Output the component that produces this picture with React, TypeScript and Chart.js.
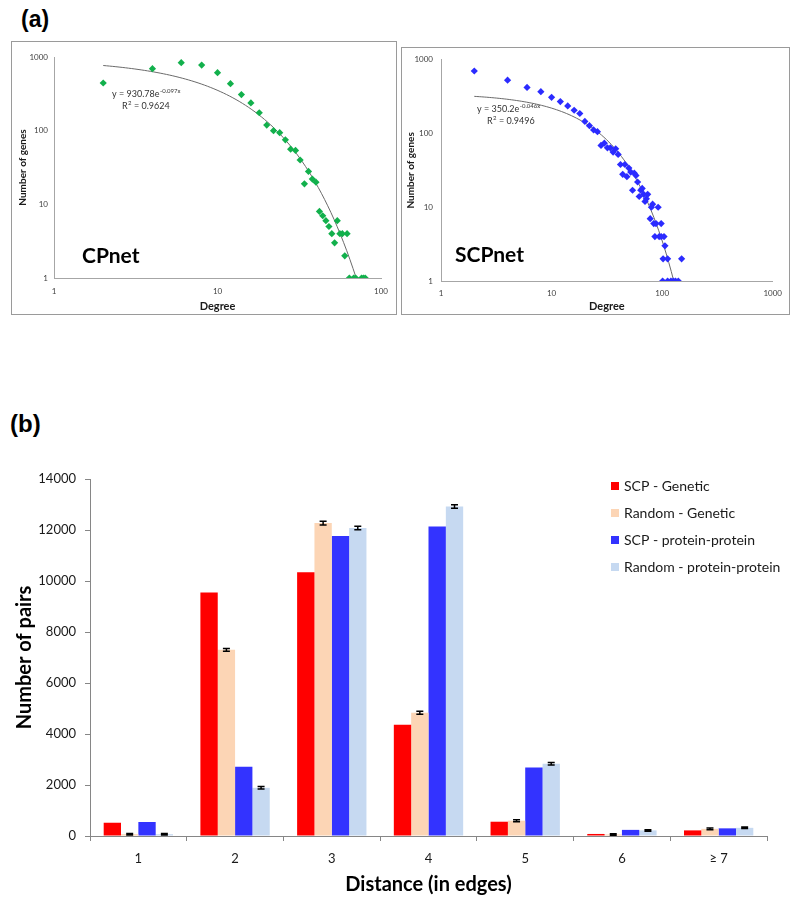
import React, { useEffect, useRef } from "react";
import { Chart, registerables } from "chart.js";

Chart.register(...registerables);

const FONT = "Lato, 'Open Sans', Arial, sans-serif";

// ---------- Panel (a): degree distributions ----------
const cpDegree = [2, 4, 6, 8, 10, 12, 14, 16, 18, 20, 22, 24, 26, 28, 30, 32, 34, 36, 38, 40, 42, 44, 46, 48, 50, 52, 54, 56, 58, 60, 62, 64, 68, 70, 76, 78, 80];
const cpGenes = [444, 695, 837, 778, 613, 435, 309, 238, 175, 119, 100, 94, 75, 56, 54, 40, 19, 28, 22, 20, 8, 7, 6, 5, 4, 3, 6, 4, 4, 2, 4, 1, 1, 1, 1, 1, 1];

const scpDegree = [2, 4, 6, 8, 10, 12, 14, 16, 18, 20, 22, 24, 26, 28, 30, 32, 34, 36, 38, 40, 42, 46, 44, 48, 50, 52, 54, 56, 58, 60, 62, 64, 66, 68, 70, 72, 74, 78, 80, 82, 84, 88, 86, 94, 92, 98, 98, 104, 106, 102, 112, 150, 101, 112, 120, 126, 132, 140];
const scpGenes = [705, 529, 422, 369, 310, 271, 237, 207, 187, 146, 128, 112, 106, 69, 74, 64, 64, 56, 62, 52, 38, 38, 28, 26, 34, 30, 17, 29, 27, 22, 14, 17, 18, 15, 12, 13, 15, 7, 10, 11, 6, 6, 4, 4, 10, 4, 6, 4, 3, 2, 2, 2, 1, 1, 1, 1, 1, 1];

const cpDegreeTicks = [1, 10, 100];
const scpDegreeTicks = [1, 10, 100, 1000];
const geneTicks = [1, 10, 100, 1000];

// exponential trendlines printed on the chart: y = A e^(-B x)
const cpFitA = 930.78;
const cpFitB = 0.097;
const cpFitR2 = "0.9624";
const scpFitA = 350.2;
const scpFitB = 0.046;
const scpFitR2 = "0.9496";
const fitStartDegree = 2;

// ---------- Panel (b): distance distribution ----------
const distances = ["1", "2", "3", "4", "5", "6", "\u2265 7"];
const scpGenetic = [520, 9550, 10340, 4360, 560, 80, 220];
const randomGenetic = [70, 7300, 12270, 4830, 600, 60, 280];
const randomGeneticErr = [30, 50, 70, 60, 40, 30, 30];
const scpPP = [550, 2720, 11760, 12140, 2690, 240, 300];
const randomPP = [70, 1890, 12080, 12920, 2830, 220, 320];
const randomPPErr = [30, 50, 70, 70, 50, 30, 30];

function expCurve(a: number, b: number, from: number) {
  const to = Math.log(a) / b;
  const pts: { x: number; y: number }[] = [];
  const n = 80;
  for (let i = 0; i <= n; i++) {
    const x = from * Math.pow(to / from, i / n);
    pts.push({ x, y: a * Math.exp(-b * x) });
  }
  return pts;
}

const framePlugin = {
  id: "frame",
  afterDraw(chart: any) {
    const { ctx, width, height } = chart;
    ctx.save();
    ctx.strokeStyle = "#9a9a9a";
    ctx.lineWidth = 1;
    ctx.strokeRect(0.5, 0.5, width - 1, height - 1);
    ctx.restore();
  },
};

function decorPlugin(p: any) {
  return {
    id: "decor",
    afterDraw(chart: any) {
      const ctx = chart.ctx;
      ctx.save();
      ctx.fillStyle = "#000";
      ctx.textBaseline = "middle";
      ctx.textAlign = "left";
      ctx.font = `bold 21px ${FONT}`;
      ctx.fillText(p.name, p.nameX, p.nameY);
      ctx.fillStyle = "#333";
      ctx.font = `9px ${FONT}`;
      const main = `y = ${p.a}e`;
      ctx.fillText(main, p.eqX, p.eqY);
      const w = ctx.measureText(main).width;
      ctx.font = `6px ${FONT}`;
      ctx.fillText(`-${p.b}x`, p.eqX + w + 0.5, p.eqY - 3);
      ctx.font = `9px ${FONT}`;
      ctx.fillText("R", p.eqX + 10, p.eqY + 12);
      const rw = ctx.measureText("R").width;
      ctx.font = `6px ${FONT}`;
      ctx.fillText("2", p.eqX + 10 + rw + 0.3, p.eqY + 9);
      ctx.font = `9px ${FONT}`;
      ctx.fillText(` = ${p.r2}`, p.eqX + 10 + rw + 4, p.eqY + 12);
      ctx.restore();
    },
  };
}

function scatterConfig(p: any) {
  return {
    type: "scatter",
    data: {
      datasets: [
        {
          label: p.name,
          data: p.xs.map((x: number, i: number) => ({ x, y: p.ys[i] })),
          pointStyle: "rectRot",
          pointRadius: 3.6,
          backgroundColor: p.color,
          borderColor: p.color,
          borderWidth: 0,
        },
        {
          label: "trend",
          data: expCurve(p.a, p.b, fitStartDegree),
          showLine: true,
          pointRadius: 0,
          borderColor: "#6a6a6a",
          borderWidth: 1,
          fill: false,
          tension: 0,
        },
      ],
    },
    options: {
      responsive: false,
      animation: false,
      events: [],
      layout: { padding: p.pad },
      plugins: { legend: { display: false }, tooltip: { enabled: false } },
      scales: {
        x: {
          type: "logarithmic",
          min: 1,
          max: p.xMax,
          afterBuildTicks: (s: any) => {
            s.ticks = p.xTicks.map((v: number) => ({ value: v }));
          },
          afterFit: (s: any) => {
            s.height = p.xAxisH;
          },
          grid: { display: false, drawTicks: false },
          border: { display: true, color: "#a6a6a6" },
          ticks: {
            callback: (v: any) => String(v),
            font: { family: FONT, size: 8 },
            color: "#404040",
            padding: p.xTickPad,
            maxRotation: 0,
            autoSkip: false,
          },
          title: {
            display: true,
            text: "Degree",
            font: { family: FONT, size: 11, weight: "bold" },
            color: "#1a1a1a",
            padding: { top: 0, bottom: 1.5 },
          },
        },
        y: {
          type: "logarithmic",
          min: 1,
          max: 1000,
          afterBuildTicks: (s: any) => {
            s.ticks = geneTicks.map((v: number) => ({ value: v }));
          },
          afterFit: (s: any) => {
            s.width = p.yAxisW;
          },
          grid: { display: false, drawTicks: false },
          border: { display: true, color: "#a6a6a6" },
          ticks: {
            callback: (v: any) => String(v),
            font: { family: FONT, size: 8 },
            color: "#404040",
            padding: p.yTickPad,
            autoSkip: false,
          },
          title: {
            display: true,
            text: "Number of genes",
            font: { family: FONT, size: 10, weight: "bold" },
            color: "#1a1a1a",
            padding: { top: p.yTitlePad, bottom: 0 },
          },
        },
      },
    },
    plugins: [framePlugin, decorPlugin(p)],
  };
}

const errorBarPlugin = {
  id: "errbars",
  afterDatasetsDraw(chart: any) {
    const ctx = chart.ctx;
    const y = chart.scales.y;
    chart.data.datasets.forEach((ds: any, di: number) => {
      if (!ds.errors) return;
      const meta = chart.getDatasetMeta(di);
      meta.data.forEach((bar: any, i: number) => {
        const v = ds.data[i];
        const e = ds.errors[i];
        const yt = y.getPixelForValue(v + e);
        const yb = y.getPixelForValue(v - e);
        const x = bar.x;
        ctx.save();
        ctx.strokeStyle = "#000";
        ctx.lineWidth = 1.5;
        ctx.beginPath();
        ctx.moveTo(x, yt);
        ctx.lineTo(x, yb);
        ctx.moveTo(x - 3.5, yt);
        ctx.lineTo(x + 3.5, yt);
        ctx.moveTo(x - 3.5, yb);
        ctx.lineTo(x + 3.5, yb);
        ctx.stroke();
        ctx.restore();
      });
    });
  },
};

const boxLegendPlugin = {
  id: "boxLegend",
  afterDraw(chart: any) {
    const ctx = chart.ctx;
    ctx.save();
    chart.data.datasets.forEach((ds: any, i: number) => {
      const y = 46 + i * 27;
      ctx.fillStyle = ds.backgroundColor;
      ctx.fillRect(611, y - 4, 8, 8);
      ctx.fillStyle = "#1a1a1a";
      ctx.font = `14px ${FONT}`;
      ctx.textBaseline = "middle";
      ctx.textAlign = "left";
      ctx.fillText(ds.label, 624, y + 0.5);
    });
    ctx.restore();
  },
};

function barConfig() {
  return {
    type: "bar",
    data: {
      labels: distances,
      datasets: [
        { label: "SCP - Genetic", data: scpGenetic, backgroundColor: "#ff0000" },
        { label: "Random - Genetic", data: randomGenetic, errors: randomGeneticErr, backgroundColor: "#fcd5b5" },
        { label: "SCP - protein-protein", data: scpPP, backgroundColor: "#3333ff" },
        { label: "Random - protein-protein", data: randomPP, errors: randomPPErr, backgroundColor: "#c6d9f1" },
      ],
    },
    options: {
      responsive: false,
      animation: false,
      events: [],
      layout: { padding: { left: 0, top: 39, right: 33, bottom: 0 } },
      datasets: { bar: { categoryPercentage: 0.717, barPercentage: 1.0, borderWidth: 0 } },
      plugins: { legend: { display: false }, tooltip: { enabled: false } },
      scales: {
        x: {
          offset: true,
          afterFit: (s: any) => {
            s.height = 72;
          },
          grid: { display: true, offset: true, drawOnChartArea: false, drawTicks: true, tickLength: 5, color: "#868686" },
          border: { display: true, color: "#868686" },
          ticks: { font: { family: FONT, size: 13 }, color: "#1a1a1a", padding: 10, maxRotation: 0 },
          title: {
            display: true,
            text: "Distance (in edges)",
            font: { family: FONT, size: 20, weight: "bold" },
            color: "#000",
            padding: { top: 0, bottom: 11 },
          },
        },
        y: {
          min: 0,
          max: 14000,
          afterFit: (s: any) => {
            s.width = 90;
          },
          grid: { display: true, drawOnChartArea: false, drawTicks: true, tickLength: 5, color: "#868686" },
          border: { display: true, color: "#868686" },
          ticks: {
            stepSize: 2000,
            callback: (v: any) => String(v),
            font: { family: FONT, size: 13 },
            color: "#1a1a1a",
            padding: 9,
          },
          title: {
            display: true,
            text: "Number of pairs",
            font: { family: FONT, size: 20, weight: "bold" },
            color: "#000",
            padding: { top: 13, bottom: 0 },
          },
        },
      },
    },
    plugins: [errorBarPlugin, boxLegendPlugin],
  };
}

function ChartCanvas({ make, left, top, width, height }: any) {
  const ref = useRef<HTMLCanvasElement | null>(null);
  useEffect(() => {
    if (!ref.current) return;
    const chart = new Chart(ref.current, make());
    return () => chart.destroy();
  }, []);
  return (
    <canvas
      ref={ref}
      width={width}
      height={height}
      style={{ position: "absolute", left, top, width, height, display: "block" }}
    />
  );
}

export default function App() {
  const cp = {
    name: "CPnet",
    xs: cpDegree,
    ys: cpGenes,
    color: "#12b04c",
    a: cpFitA,
    b: cpFitB,
    r2: cpFitR2,
    xMax: 100,
    xTicks: cpDegreeTicks,
    pad: { left: 0, top: 16, right: 15, bottom: 0 },
    xAxisH: 37,
    yAxisW: 43,
    xTickPad: 9,
    yTickPad: 6,
    yTitlePad: 6,
    nameX: 71,
    nameY: 215,
    eqX: 101,
    eqY: 53,
  };
  const scp = {
    name: "SCPnet",
    xs: scpDegree,
    ys: scpGenes,
    color: "#2b2bff",
    a: scpFitA,
    b: scpFitB,
    r2: scpFitR2,
    xMax: 1000,
    xTicks: scpDegreeTicks,
    pad: { left: 0, top: 10, right: 16, bottom: 0 },
    xAxisH: 34,
    yAxisW: 40,
    xTickPad: 8,
    yTickPad: 8,
    yTitlePad: 4,
    nameX: 54,
    nameY: 208,
    eqX: 76,
    eqY: 62,
  };
  return (
    <div style={{ position: "absolute", left: 0, top: 0, width: 800, height: 908, background: "#fff" }}>
      <div
        style={{
          position: "absolute",
          left: 21,
          top: 6,
          font: "bold 23px 'Liberation Sans', Arial, sans-serif",
          lineHeight: "26px",
          color: "#000",
        }}
      >
        (a)
      </div>
      <ChartCanvas make={() => scatterConfig(cp)} left={11} top={41} width={386} height={274} />
      <ChartCanvas make={() => scatterConfig(scp)} left={401} top={47} width={389} height={268} />
      <div
        style={{
          position: "absolute",
          left: 10,
          top: 410,
          font: "bold 24px 'Liberation Sans Narrow', 'Liberation Sans', Arial, sans-serif",
          lineHeight: "28px",
          color: "#000",
        }}
      >
        (b)
      </div>
      <ChartCanvas make={barConfig} left={0} top={440} width={800} height={468} />
    </div>
  );
}
